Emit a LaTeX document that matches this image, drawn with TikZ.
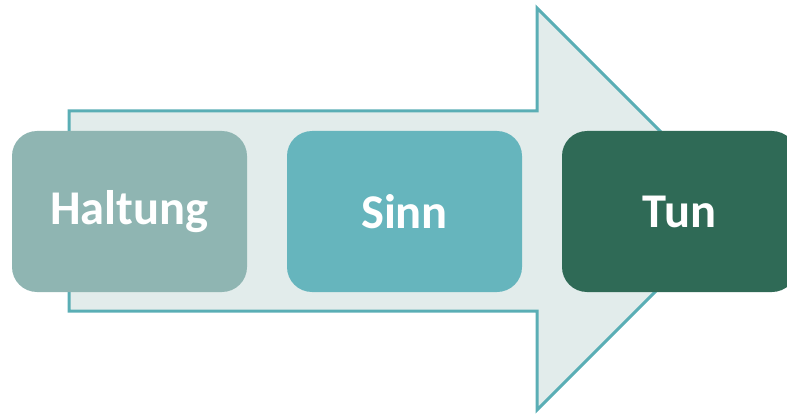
\documentclass[tikz,border=0pt]{standalone}
\usepackage{fontspec}
\setmainfont{Carlito}
\usetikzlibrary{positioning}

\definecolor{arrowfill}{HTML}{E2ECEB}
\definecolor{arrowline}{HTML}{5AAEB5}
\definecolor{haltungcol}{HTML}{8FB5B2}
\definecolor{sinncol}{HTML}{66B5BD}
\definecolor{tuncol}{HTML}{2F6A56}

\begin{document}
\begin{tikzpicture}[x=1pt,y=-1pt,
        step box/.style={rounded corners=25pt, minimum width=235pt, minimum height=161pt,
          text=white, font=\fontsize{48.5}{54}\selectfont\bfseries, inner sep=0pt}]
        \clip (0,0) rectangle (787,417);

        % big arrow
        \draw[line width=3pt, arrowline, fill=arrowfill, line join=miter]
          (69,111) -- (537,111) -- (537,8) -- (738,209) -- (537,410) -- (537,311) -- (69,311) -- cycle;

        % nodes
        \node[step box, fill=haltungcol] (haltung) at (129.5,211.5) {Haltung};
        \node[step box, fill=sinncol] (sinn) at (404.5,211.5) {Sinn};
        \node[step box, fill=tuncol] (tun) at (679.5,211.5) {Tun};

\end{tikzpicture}
\end{document}
